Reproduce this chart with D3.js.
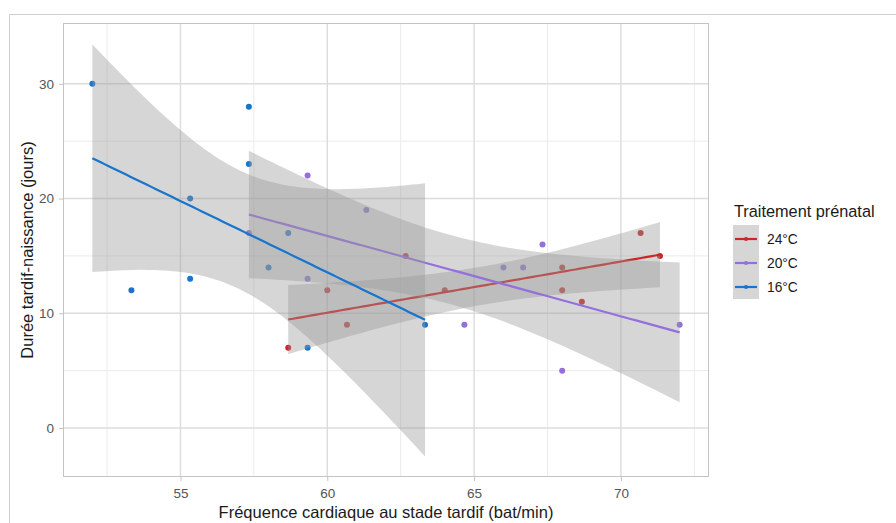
<!DOCTYPE html>
<html>
<head>
<meta charset="utf-8">
<script src="https://cdn.jsdelivr.net/npm/d3@7"></script>
<style>
  html, body { margin: 0; padding: 0; background: #fff; }
  svg { display: block; font-family: "Liberation Sans", Arial, sans-serif; }
</style>
</head>
<body>
<svg id="chart" width="896" height="523"></svg>
<script>
// ---- Data ----
const groups = ["24°C", "20°C", "16°C"];
const colors = ["#CD2626", "#9370DB", "#1874CD"];

const x24 = [58.67, 60, 60.67, 62.67, 64, 68, 68, 68.67, 70.67, 71.33];
const y24 = [7, 12, 9, 15, 12, 14, 12, 11, 17, 15];

const x20 = [57.33, 59.33, 59.33, 61.33, 64.67, 66, 66.67, 67.33, 68, 72];
const y20 = [17, 22, 13, 19, 9, 14, 14, 16, 5, 9];

const x16 = [52, 53.33, 55.33, 55.33, 57.33, 57.33, 58, 58.67, 59.33, 63.33];
const y16 = [30, 12, 20, 13, 28, 23, 14, 17, 7, 9];

const xTicks = [55, 60, 65, 70];
const yTicks = [0, 10, 20, 30];
const xMinor = [52.5, 57.5, 62.5, 67.5, 72.5];
const yMinor = [5, 15, 25];

const xTitle = "Fréquence cardiaque au stade tardif (bat/min)";
const yTitle = "Durée tardif-naissance (jours)";
const legendTitle = "Traitement prénatal";

const series = [
  { name: groups[0], color: colors[0], xs: x24, ys: y24 },
  { name: groups[1], color: colors[1], xs: x20, ys: y20 },
  { name: groups[2], color: colors[2], xs: x16, ys: y16 }
];

// ---- Linear model + 95% CI (like geom_smooth(method="lm")) ----
const T975_DF8 = 2.306004;
function fitLm(xs, ys) {
  const n = xs.length;
  const mx = d3.mean(xs), my = d3.mean(ys);
  let sxx = 0, sxy = 0;
  for (let i = 0; i < n; i++) { sxx += (xs[i]-mx)**2; sxy += (xs[i]-mx)*(ys[i]-my); }
  const b = sxy / sxx, a = my - b*mx;
  let sse = 0;
  for (let i = 0; i < n; i++) sse += (ys[i] - (a + b*xs[i]))**2;
  const s = Math.sqrt(sse / (n - 2));
  const x0 = d3.min(xs), x1 = d3.max(xs);
  return d3.range(80).map(i => {
    const xv = x0 + (x1 - x0) * i / 79;
    const fit = a + b*xv;
    const se = s * Math.sqrt(1/n + (xv-mx)**2 / sxx);
    return { x: xv, fit, lo: fit - T975_DF8*se, hi: fit + T975_DF8*se };
  });
}
series.forEach(s => s.fit = fitLm(s.xs, s.ys));

// ---- Layout ----
const svg = d3.select("#chart");
const P = { left: 63, right: 709, top: 23, bottom: 477 };

const x = d3.scaleLinear().domain([51, 73]).range([P.left, P.right]);
const y = d3.scaleLinear().domain([-4.27, 35.3]).range([P.bottom, P.top]);

// outer frame
svg.append("path")
  .attr("d", `M9.5,523 L9.5,14.5 L896,14.5`)
  .attr("fill", "none").attr("stroke", "#cfcfcf").attr("stroke-width", 1);

const g = svg.append("g");

svg.append("clipPath").attr("id", "clip").append("rect")
  .attr("x", P.left).attr("y", P.top).attr("width", P.right - P.left).attr("height", P.bottom - P.top);

// grid
g.selectAll(".xminor").data(xMinor).enter().append("line")
  .attr("x1", d => x(d)).attr("x2", d => x(d)).attr("y1", P.top).attr("y2", P.bottom)
  .attr("stroke", "#ebebeb").attr("stroke-width", 1);
g.selectAll(".yminor").data(yMinor).enter().append("line")
  .attr("y1", d => y(d)).attr("y2", d => y(d)).attr("x1", P.left).attr("x2", P.right)
  .attr("stroke", "#ebebeb").attr("stroke-width", 1);
g.selectAll(".xmajor").data(xTicks).enter().append("line")
  .attr("x1", d => x(d)).attr("x2", d => x(d)).attr("y1", P.top).attr("y2", P.bottom)
  .attr("stroke", "#dcdcdc").attr("stroke-width", 1.4);
g.selectAll(".ymajor").data(yTicks).enter().append("line")
  .attr("y1", d => y(d)).attr("y2", d => y(d)).attr("x1", P.left).attr("x2", P.right)
  .attr("stroke", "#dcdcdc").attr("stroke-width", 1.4);

const plot = g.append("g").attr("clip-path", "url(#clip)");

// points first
series.forEach(s => {
  plot.append("g").selectAll("circle").data(s.xs.map((v, i) => [v, s.ys[i]])).enter()
    .append("circle")
    .attr("cx", d => x(d[0])).attr("cy", d => y(d[1])).attr("r", 3)
    .attr("fill", s.color);
});

// smooths: ribbon then line, per group
const area = d3.area().x(d => x(d.x)).y0(d => y(d.lo)).y1(d => y(d.hi));
const line = d3.line().x(d => x(d.x)).y(d => y(d.fit));
series.forEach(s => {
  plot.append("path").datum(s.fit).attr("d", area)
    .attr("fill", "#999999").attr("fill-opacity", 0.4);
  plot.append("path").datum(s.fit).attr("d", line)
    .attr("fill", "none").attr("stroke", s.color).attr("stroke-width", 2.2);
});

// panel border
g.append("rect").attr("x", P.left + 0.5).attr("y", P.top + 0.5)
  .attr("width", P.right - P.left - 1).attr("height", P.bottom - P.top - 1)
  .attr("fill", "none").attr("stroke", "#c4c4c4").attr("stroke-width", 1);

// axes
const xAxis = d3.axisBottom(x).tickValues(xTicks).tickSize(4).tickPadding(4);
const yAxis = d3.axisLeft(y).tickValues(yTicks).tickSize(4).tickPadding(5);
const gx = svg.append("g").attr("transform", `translate(0,${P.bottom})`).call(xAxis);
const gy = svg.append("g").attr("transform", `translate(${P.left},0)`).call(yAxis);
[gx, gy].forEach(ax => {
  ax.select(".domain").remove();
  ax.selectAll(".tick line").attr("stroke", "#c4c4c4").attr("stroke-width", 1);
  ax.selectAll(".tick text").attr("fill", "#555555").style("font-size", "13.5px")
    .style("font-family", "'Liberation Sans', Arial, sans-serif");
});
gx.selectAll(".tick text").attr("dy", "0.95em");

// axis titles
svg.append("text").attr("x", (P.left + P.right) / 2).attr("y", 518)
  .attr("text-anchor", "middle").attr("fill", "#1a1a1a").style("font-size", "16.5px")
  .text(xTitle);
svg.append("text").attr("transform", `translate(33,${(P.top + P.bottom) / 2}) rotate(-90)`)
  .attr("text-anchor", "middle").attr("fill", "#1a1a1a").style("font-size", "16.5px")
  .text(yTitle);

// legend
const L = svg.append("g");
L.append("text").attr("x", 734).attr("y", 217).attr("fill", "#1a1a1a")
  .style("font-size", "16.3px").text(legendTitle);
const keyY = [239, 263, 287];
L.append("rect").attr("x", 733).attr("y", 225).attr("width", 26).attr("height", 74)
  .attr("fill", "#999999").attr("fill-opacity", 0.4);
series.forEach((s, i) => {
  L.append("line").attr("x1", 735).attr("x2", 757).attr("y1", keyY[i]).attr("y2", keyY[i])
    .attr("stroke", s.color).attr("stroke-width", 2.2);
  L.append("circle").attr("cx", 746).attr("cy", keyY[i]).attr("r", 2).attr("fill", s.color);
  L.append("text").attr("x", 767).attr("y", keyY[i] + 5).attr("fill", "#1a1a1a")
    .style("font-size", "13.8px").text(s.name);
});
</script>
</body>
</html>
